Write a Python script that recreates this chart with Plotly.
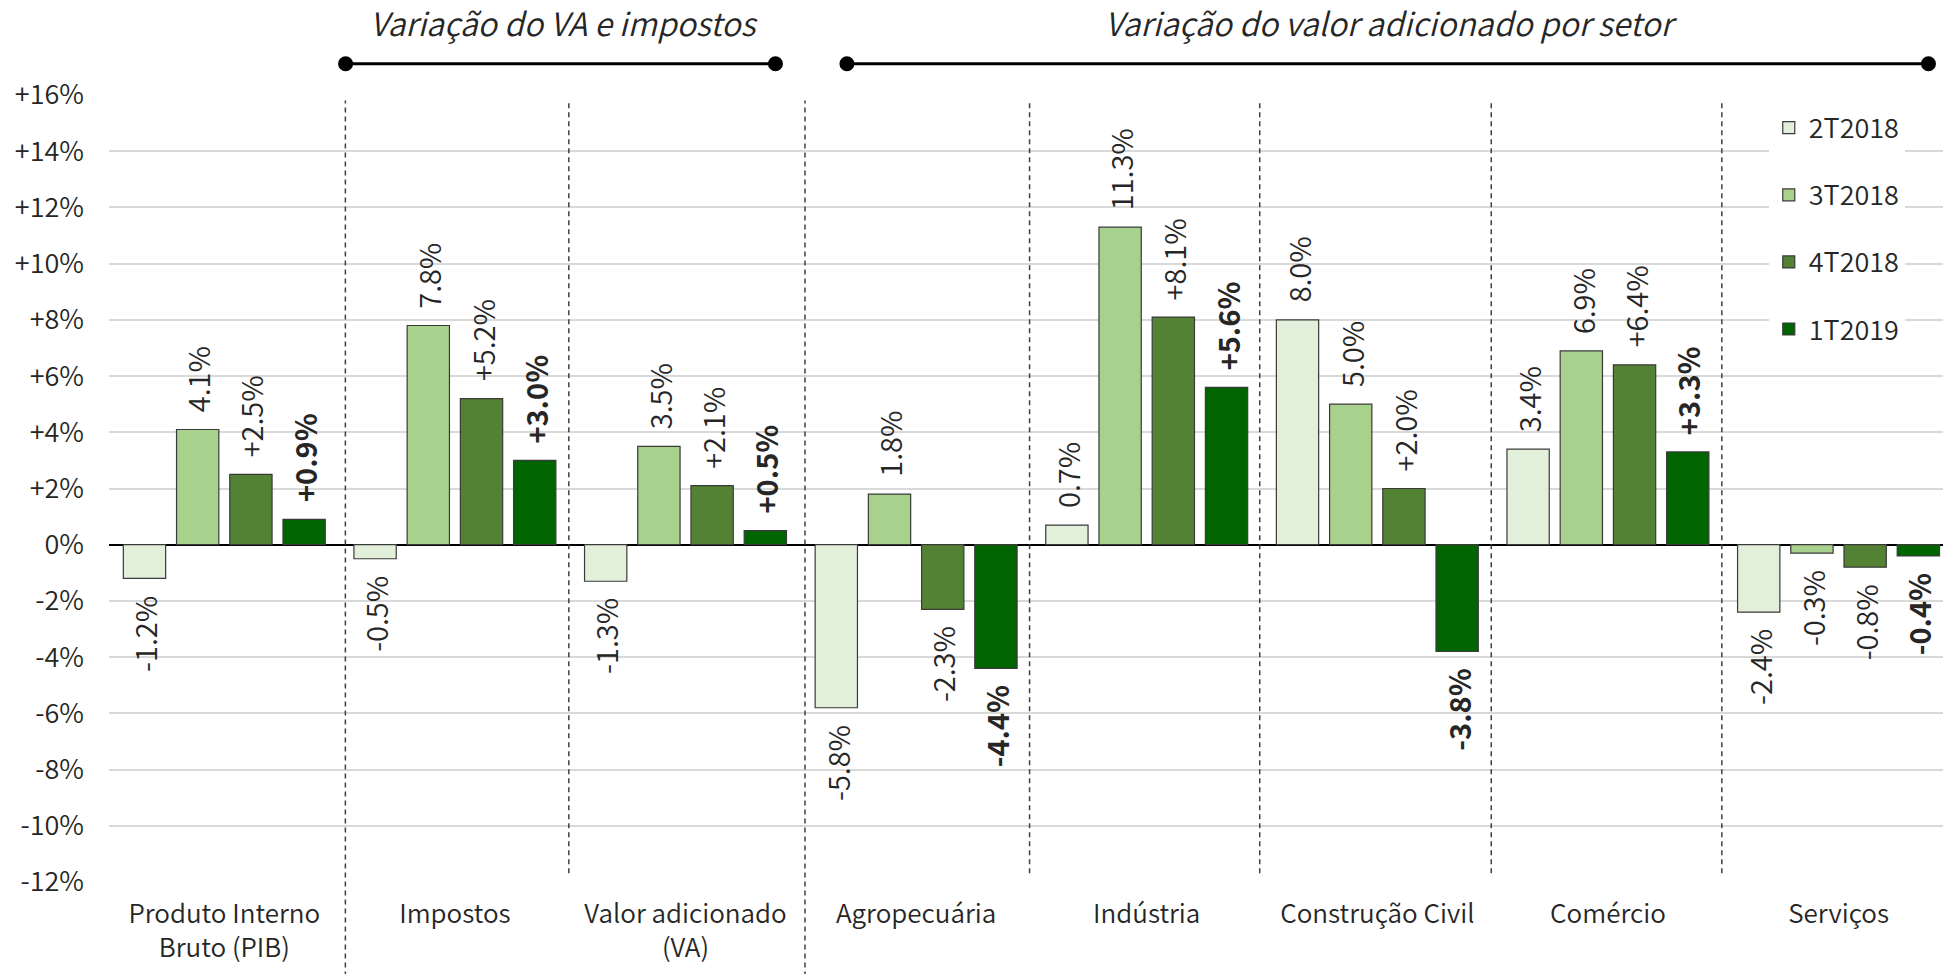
import plotly.graph_objects as go

categories = ["Produto Interno<br>Bruto (PIB)", "Impostos", "Valor adicionado<br>(VA)",
              "Agropecuária", "Indústria", "Construção Civil", "Comércio", "Serviços"]
series_names = ["2T2018", "3T2018", "4T2018", "1T2019"]
v_2t2018 = [-1.2, -0.5, -1.3, -5.8, 0.7, 8.0, 3.4, -2.4]
v_3t2018 = [4.1, 7.8, 3.5, 1.8, 11.3, 5.0, 6.9, -0.3]
v_4t2018 = [2.5, 5.2, 2.1, -2.3, 8.1, 2.0, 6.4, -0.8]
v_1t2019 = [0.9, 3.0, 0.5, -4.4, 5.6, -3.8, 3.3, -0.4]
series_values = [v_2t2018, v_3t2018, v_4t2018, v_1t2019]
y_tickvals = [16, 14, 12, 10, 8, 6, 4, 2, 0, -2, -4, -6, -8, -10, -12]
y_ticktext = ["+16%", "+14%", "+12%", "+10%", "+8%", "+6%", "+4%", "+2%", "0%",
              "-2%", "-4%", "-6%", "-8%", "-10%", "-12%"]
headers = ["Variação do VA e impostos", "Variação do valor adicionado por setor"]

colors = ["#E2EFDA", "#A9D18E", "#548235", "#006400"]
FONT = "Noto Sans CJK JP, Noto Sans, sans-serif"
TXT = "#262626"
LIGHT = 350
BARGAP = 0.077
n_series = len(series_names)
slot = (1 - BARGAP) / n_series

x_idx = list(range(len(categories)))
fig = go.Figure()
for j, (name, vals) in enumerate(zip(series_names, series_values)):
    fig.add_trace(go.Bar(
        x=x_idx, y=vals, name=name, legendgroup=name,
        marker=dict(color=colors[j], line=dict(color="#3A3A3A", width=1.2)),
        hoverinfo="skip",
    ))

annotations = []
for j, vals in enumerate(series_values):
    for i, v in enumerate(vals):
        if j < 2:
            txt = f"{v:.1f}%"
        else:
            txt = f"{v:+.1f}%"
        if j == 3:
            txt = f"<b>{txt}</b>"
        pos = v >= 0
        annotations.append(dict(
            x=i + (j - (n_series - 1) / 2) * slot, y=v, xref="x", yref="y",
            text=txt, showarrow=False, textangle=-90,
            xanchor="center", yanchor="bottom" if pos else "top",
            yshift=15 if pos else -15,
            font=dict(family=FONT, size=29, color=TXT,
                      weight=700 if j == 3 else LIGHT),
        ))

# section headers
header_x = [1.4735, 5.058]
for hx, ht in zip(header_x, headers):
    annotations.append(dict(
        x=hx, y=1.0925, xref="x", yref="paper", text=ht,
        showarrow=False, xanchor="center", yanchor="middle",
        font=dict(family=FONT, size=32, color=TXT, style="italic", weight=LIGHT),
    ))

shapes = []
# dashed separators
seps = [0.525, 1.494, 2.518, 3.492, 4.49, 5.494, 6.494]
long_seps = {0, 2}
for k, sx in enumerate(seps):
    shapes.append(dict(
        type="line", xref="x", yref="paper", x0=sx, x1=sx,
        y0=-0.12 if k in long_seps else 0.011, y1=0.993,
        line=dict(color="#404040", width=1.5, dash="5px,4px"), layer="above",
    ))
# header brackets
brackets = [(0.526, 2.39), (2.70, 7.39)]
for bx0, bx1 in brackets:
    shapes.append(dict(type="line", xref="x", yref="paper", x0=bx0, x1=bx1,
                       y0=1.0397, y1=1.0397, line=dict(color="black", width=3)))
    for cx in (bx0, bx1):
        shapes.append(dict(type="circle", xref="x", yref="paper",
                           xsizemode="pixel", ysizemode="pixel",
                           xanchor=cx, yanchor=1.0397,
                           x0=-7.5, x1=7.5, y0=-7.5, y1=7.5,
                           fillcolor="black", line=dict(color="black", width=0)))

fig.update_layout(
    width=1943, height=974,
    margin=dict(l=109, r=0, t=95, b=92),
    paper_bgcolor="white", plot_bgcolor="white",
    barmode="group", bargap=BARGAP, bargroupgap=0.205,
    font=dict(family=FONT, color=TXT),
    xaxis=dict(
        range=[-0.5, 7.453], tickvals=x_idx, ticktext=categories,
        showgrid=False, zeroline=False, showline=False, ticks="",
        tickfont=dict(family=FONT, size=26, color=TXT, weight=LIGHT),
        ticklabelstandoff=14, automargin=False,
    ),
    yaxis=dict(
        range=[-12, 16], tickvals=y_tickvals, ticktext=y_ticktext,
        showgrid=True, gridcolor="#D9D9D9", gridwidth=1.5,
        zeroline=True, zerolinecolor="black", zerolinewidth=1.5,
        showline=False, ticks="",
        tickfont=dict(family=FONT, size=27, color=TXT, weight=LIGHT),
        ticklabelstandoff=24, automargin=False,
    ),
    legend=dict(
        x=0.905, y=0.989, xanchor="left", yanchor="top",
        bgcolor="white", borderwidth=0, tracegroupgap=29,
        font=dict(family=FONT, size=27, color=TXT, weight=LIGHT),
    ),
    annotations=annotations, shapes=shapes,
    showlegend=True,
)

fig.write_html("out.html", config={"displayModeBar": False},
               post_script="document.body.style.margin='0';document.body.style.overflow='hidden';")
